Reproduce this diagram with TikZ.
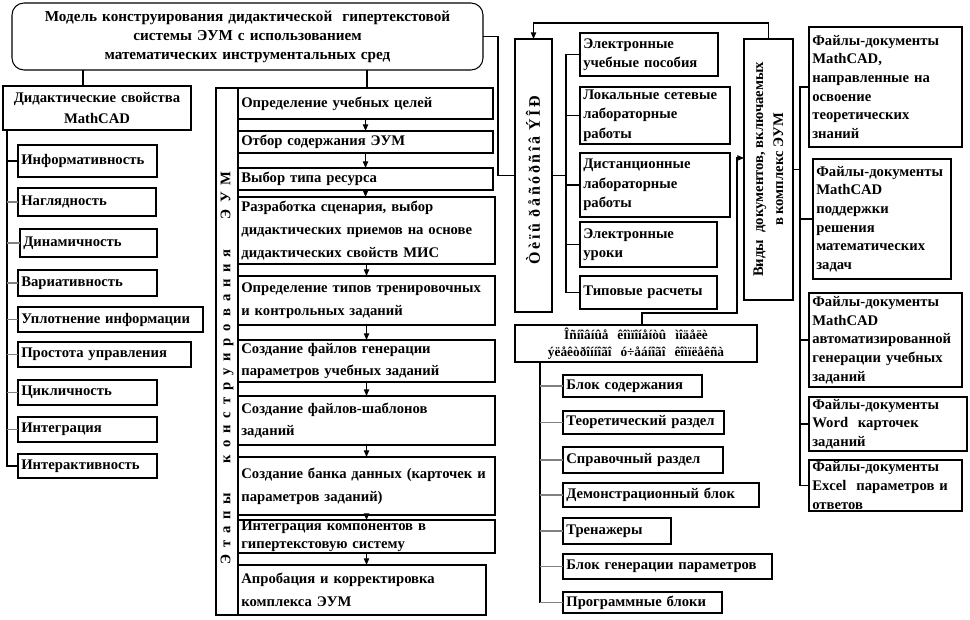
\documentclass[tikz,border=0pt]{standalone}
\usepackage{fontspec}
\setmainfont{Liberation Serif}
\usetikzlibrary{arrows.meta,calc}
\tikzset{
  bx/.style={draw, line width=0.8pt, inner sep=0pt, outer sep=0pt, font=\fontsize{11}{15}\selectfont\bfseries},
  ln/.style={line width=0.8pt},
  gl/.style={draw=gray, line width=1pt},
  arr/.style={line width=0.8pt, -{Triangle[length=5pt,width=4pt]}},
}
\newcommand\mybox[7][]{%
  \pgfmathsetmacro\bw{(#5-#3)*0.75}%
  \pgfmathsetmacro\bh{(#6-#4)*0.75}%
  \pgfmathsetmacro\tw{(#5-#3)*0.75-5}%
  \node[bx, minimum width=\bw pt, minimum height=\bh pt, text width=\tw pt, align=left, #1]
    (#2) at ({(#3+#5)/2},{(#4+#6)/2}) {#7};}
\begin{document}
\begin{tikzpicture}[x=0.75pt, y=-0.75pt]
\useasboundingbox (0,0) rectangle (970,620);

% title
\mybox[align=center, rounded corners=9pt, font=\fontsize{11.4}{14.2}\selectfont\bfseries]{title}{12}{3}{483}{70}
 {Модель конструирования дидактической \ гипертекстовой\\системы ЭУМ с использованием\\математических инструментальных сред}

% left column
\mybox[align=center, font=\fontsize{11}{16}\selectfont\bfseries]{did}{3}{86}{191}{130}{Дидактические свойства\\MathCAD}
\mybox{l1}{18}{145}{157}{177}{Информативность}
\mybox{l2}{18}{188}{156}{216}{Наглядность}
\mybox{l3}{20}{229}{157}{257}{Динамичность}
\mybox{l4}{18}{270}{157}{296}{Вариативность}
\mybox{l5}{18}{307}{203}{332}{Уплотнение информации}
\mybox{l6}{18}{342}{191}{367}{Простота управления}
\mybox{l7}{18}{380}{157}{405}{Цикличность}
\mybox{l8}{18}{417}{157}{442}{Интеграция}
\mybox{l9}{18}{454}{157}{478}{Интерактивность}

% steps column
\mybox{strip}{216}{88}{238}{615}{}
\node[rotate=90, font=\fontsize{11}{13}\selectfont\bfseries, inner sep=0pt] (striplab) at (227,368)
 {\makebox[295pt][s]{Э т а п ы\quad\quad к о н с т р у и р о в а н и я\quad\quad Э У М}};
\begin{scope}[bx/.append style={font=\fontsize{11}{17}\selectfont\bfseries}]
\mybox{s1}{238}{88}{493}{119}{Определение учебных целей}
\mybox{s2}{238}{131}{493}{153}{Отбор содержания ЭУМ}
\mybox{s3}{238}{168}{493}{190}{Выбор типа ресурса}
\mybox{s4}{238}{197}{495}{264}{Разработка сценария, выбор\\дидактических приемов на основе\\дидактических свойств МИС}
\mybox{s5}{238}{276}{495}{325}{Определение типов тренировочных\\и контрольных заданий}
\mybox{s6}{238}{340}{495}{382}{Создание файлов генерации\\параметров учебных заданий}
\mybox{s7}{238}{396}{495}{445}{Создание файлов-шаблонов\\заданий}
\mybox{s8}{238}{457}{495}{515}{Создание банка данных (карточек и\\параметров заданий)}
\mybox[font=\fontsize{11}{13.5}\selectfont\bfseries]{s9}{238}{520}{495}{553}{Интеграция компонентов в\\гипертекстовую систему}
\mybox{s10}{238}{565}{486}{615}{Апробация и корректировка\\комплекса ЭУМ}
\end{scope}

% types of resources
\mybox{types}{515}{39}{552}{312}{}
\node[rotate=90, font=\fontsize{12}{13}\selectfont\bfseries\addfontfeature{LetterSpace=16}, inner sep=0pt] (typeslab) at (533,180) {Òèïû ðåñóðñîâ ÝÎÐ};
\begin{scope}[bx/.append style={font=\fontsize{11}{14.5}\selectfont\bfseries}]
\mybox{t1}{580}{33}{718}{76}{Электронные\\учебные пособия}
\mybox{t2}{580}{87}{730}{144}{Локальные сетевые\\лабораторные\\работы}
\mybox{t3}{580}{153}{730}{217}{Дистанционные\\лабораторные\\работы}
\mybox{t4}{580}{222}{717}{267}{Электронные\\уроки}
\mybox{t5}{580}{276}{717}{309}{Типовые расчеты}
\end{scope}

% kinds of documents
\mybox{vidy}{744}{39}{793}{300}{}
\node[rotate=90, align=center, font=\fontsize{11}{15}\selectfont\bfseries, inner sep=0pt] (vidylab) at (vidy)
 {Виды \ документов, включаемых\\в комплекс ЭУМ};
\begin{scope}[bx/.append style={font=\fontsize{11}{14}\selectfont\bfseries}]
\mybox{v1}{809}{27}{962}{147}{Файлы-документы\\MathCAD,\\направленные на\\освоение\\теоретических\\знаний}
\mybox{v2}{813}{159}{951}{279}{Файлы-документы\\MathCAD\\поддержки\\решения\\математических\\задач}
\mybox{v3}{809}{293}{962}{387}{Файлы-документы\\MathCAD\\автоматизированной\\генерации учебных\\заданий}
\mybox{v4}{809}{397}{967}{451}{Файлы-документы\\Word \ карточек\\заданий}
\mybox{v5}{809}{460}{962}{511}{Файлы-документы\\Excel \ параметров и\\ответов}
\end{scope}

% main components
\mybox[align=center, font=\fontsize{10}{13}\selectfont\bfseries]{osn}{515}{325}{757}{362}
 {Îñíîâíûå \ êîìïîíåíòû \ ìîäåëè\\ýëåêòðîííîãî \ ó÷åáíîãî \ êîìïëåêñà}
\mybox{o1}{563}{375}{702}{397}{Блок содержания}
\mybox{o2}{563}{411}{724}{434}{Теоретический раздел}
\mybox{o3}{563}{447}{723}{473}{Справочный раздел}
\mybox{o4}{563}{483}{759}{507}{Демонстрационный блок}
\mybox{o5}{563}{518}{671}{544}{Тренажеры}
\mybox{o6}{563}{554}{772}{579}{Блок генерации параметров}
\mybox{o7}{563}{592}{722}{613}{Программные блоки}

% helper coordinates
\coordinate (ltr) at (7,0);
\coordinate (tdx) at (83,0);
\coordinate (stx) at (367,0);
\coordinate (jt) at (498,0);
\coordinate (topy) at (0,23);
\coordinate (ttr) at (566,0);
\coordinate (vtr) at (800,0);
\coordinate (otr) at (540,0);
\coordinate (ox) at (642,0);
\coordinate (oy) at (0,313);
\coordinate (vx) at (737,0);
\coordinate (ay) at (0,158);

% connectors from title
\draw[ln] (title.south -| tdx) -- (did.north -| tdx);
\draw[ln] (title.south -| stx) -- (s1.north -| stx);
\draw[ln] (title.east) -- (title.east -| jt) -- (jt |- types.west) -- (types.west);

% left tree
\draw[ln] (did.south -| ltr) -- (ltr |- l9.west) -- (l9.west);
\draw[ln] (l1.west) -- (l1.west -| ltr);
\foreach \i in {2,...,8} \draw[gl] (l\i.west) -- (l\i.west -| ltr);

% steps arrows
\foreach \a/\b in {s1/s2,s2/s3,s3/s4,s4/s5,s5/s6,s6/s7,s7/s8,s8/s9,s9/s10}
  \draw[arr] (\a.south) -- (\a.south |- \b.north);

% types tree
\draw[ln] (types.east) -- (types.east -| ttr);
\draw[ln] (t1.west) -- (t1.west -| ttr) -- (ttr |- t5.west) -- (t5.west);
\foreach \i in {2,3,4} \draw[ln] (t\i.west) -- (t\i.west -| ttr);

% vidy tree
\draw[ln] (vidy.east) -- (vidy.east -| vtr);
\draw[ln] (v1.west) -- (v1.west -| vtr) -- (vtr |- v5.west) -- (v5.west);
\foreach \i in {2,3,4} \draw[ln] (v\i.west) -- (v\i.west -| vtr);

% osn tree
\draw[ln] (osn.south -| otr) -- (otr |- o7.west);
\foreach \i in {1,...,7} \draw[gl] (o\i.west) -- (o\i.west -| otr);

% cross arrows
\draw[arr] (vidy.north) -- (vidy.north |- topy) -- (types.north |- topy) -- (types.north);
\draw[arr] (osn.north -| ox) -- (ox |- oy) -- (vx |- oy) -- (vx |- ay) -- (vidy.west |- ay);
\end{tikzpicture}
\end{document}
